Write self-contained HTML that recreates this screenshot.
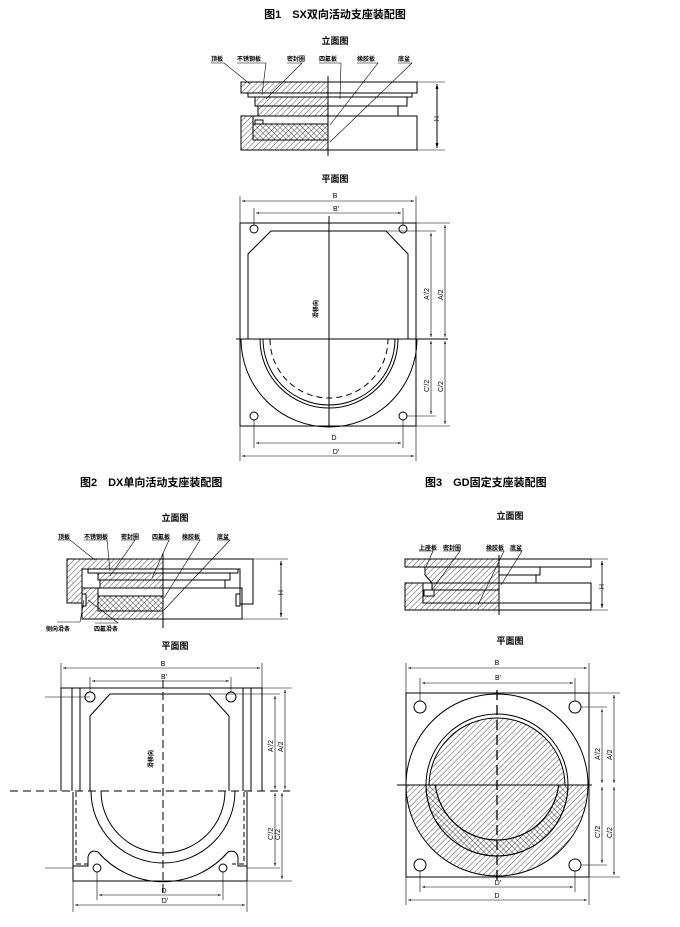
<!DOCTYPE html>
<html><head><meta charset="utf-8"><style>
html,body{margin:0;padding:0;background:#fff}
svg{display:block}
text{font-family:"Liberation Sans","Noto Sans CJK SC",sans-serif;fill:#000}
.t{font-size:11px;font-weight:bold}
.s{font-size:9px;font-weight:bold}
.l{font-size:6px;font-weight:bold}
.d{font-size:7px}
</style></head><body>
<svg width="680" height="927" viewBox="0 0 680 927" xmlns="http://www.w3.org/2000/svg">
<defs>
<pattern id="h" width="4" height="4" patternUnits="userSpaceOnUse" patternTransform="rotate(45)"><line x1="0" y1="0" x2="0" y2="4" stroke="#000" stroke-width="0.7"/></pattern>
<pattern id="x" width="4" height="4" patternUnits="userSpaceOnUse" patternTransform="rotate(45)"><line x1="0" y1="0" x2="0" y2="4" stroke="#000" stroke-width="0.7"/><line x1="0" y1="0" x2="4" y2="0" stroke="#000" stroke-width="0.7"/></pattern>
<marker id="a" viewBox="0 0 10 10" refX="10" refY="5" markerWidth="5" markerHeight="5" orient="auto-start-reverse"><path d="M0,2 L10,5 L0,8z" fill="#000"/></marker>
<clipPath id="sq3"><rect x="406" y="785" width="183" height="92"/></clipPath>
<clipPath id="up3"><rect x="406" y="693" width="183" height="92"/></clipPath>
</defs>
<g fill="none" stroke="#000" stroke-width="1">

<!-- titles -->
<text x="335" y="18" class="t" text-anchor="middle" stroke="none">图1　SX双向活动支座装配图</text>
<text x="335" y="44" class="s" text-anchor="middle" stroke="none">立面图</text>
<text x="335" y="182" class="s" text-anchor="middle" stroke="none">平面图</text>
<text x="80" y="486" class="t" stroke="none">图2　DX单向活动支座装配图</text>
<text x="425" y="486" class="t" stroke="none">图3　GD固定支座装配图</text>
<text x="175" y="521" class="s" text-anchor="middle" stroke="none">立面图</text>
<text x="175" y="649" class="s" text-anchor="middle" stroke="none">平面图</text>
<text x="510" y="519" class="s" text-anchor="middle" stroke="none">立面图</text>
<text x="510" y="644" class="s" text-anchor="middle" stroke="none">平面图</text>

<!-- FIG1 elevation -->
<rect x="241" y="82" width="176" height="11"/>
<rect x="241" y="82" width="87" height="11" fill="url(#h)"/>
<rect x="248" y="93" width="164" height="4"/>
<rect x="255" y="97" width="152" height="9"/>
<rect x="255" y="97" width="73" height="9" fill="url(#h)"/>
<rect x="258" y="106" width="140" height="10"/>
<rect x="258" y="106" width="70" height="10" fill="url(#h)"/>
<rect x="241" y="116" width="176" height="34"/>
<path d="M241,116 H253 V140 H328 V150 H241Z" fill="url(#h)"/>
<rect x="253" y="124" width="75" height="16" fill="url(#x)"/>
<rect x="255" y="120" width="8" height="4" fill="#fff"/>
<line x1="328" y1="76" x2="328" y2="156"/>
<line x1="417" y1="82" x2="445" y2="82" stroke-width="0.6"/>
<line x1="417" y1="150" x2="445" y2="150" stroke-width="0.6"/>
<line x1="437" y1="84" x2="437" y2="148" marker-start="url(#a)" marker-end="url(#a)"/>
<text x="434" y="116" class="d" stroke="none" transform="rotate(90 434 116)">H</text>
<g stroke-width="0.6">
<path d="M211,63 H224 L250,84"/><path d="M237,63 H266 L262,95"/><path d="M287,63 H302 L266,99"/>
<path d="M319,63 H341 L340,99"/><path d="M357,63 H378 L330,125"/><path d="M398,63 H412 L330,142"/>
</g>
<g class="l" stroke="none"><text x="211" y="61">顶板</text><text x="237" y="61">不锈钢板</text><text x="287" y="61">密封圈</text><text x="319" y="61">四氟板</text><text x="357" y="61">橡胶板</text><text x="398" y="61">底盆</text></g>

<!-- FIG1 plan -->
<rect x="240" y="223" width="176" height="203"/>
<path d="M248,339 V254 L271,231 H386 L408,254 V339"/>
<line x1="236" y1="339" x2="448" y2="339"/>
<line x1="329" y1="216" x2="329" y2="426"/>
<circle cx="254" cy="229" r="4"/><circle cx="403" cy="229" r="4"/><circle cx="254" cy="416" r="4"/><circle cx="403" cy="416" r="4"/>
<path d="M241,339 A88,88 0 0 0 417,339"/>
<path d="M260,339 A69,69 0 0 0 398,339"/>
<path d="M263,339 A66,66 0 0 0 395,339"/>
<path d="M270,339 A59,59 0 0 0 388,339" stroke-dasharray="6,4"/>
<text x="318" y="318" class="l" stroke="none" transform="rotate(-90 318 318)">滑移向</text>
<g stroke-width="0.6">
<line x1="240" y1="196" x2="240" y2="223"/><line x1="416" y1="196" x2="416" y2="223"/>
<line x1="254" y1="208" x2="254" y2="225"/><line x1="403" y1="208" x2="403" y2="225"/>
<line x1="242" y1="201" x2="414" y2="201" marker-start="url(#a)" marker-end="url(#a)"/>
<line x1="256" y1="213" x2="401" y2="213" marker-start="url(#a)" marker-end="url(#a)"/>
<line x1="416" y1="223" x2="450" y2="223"/><line x1="386" y1="231" x2="436" y2="231"/>
<line x1="407" y1="416" x2="436" y2="416"/><line x1="416" y1="426" x2="450" y2="426"/>
<line x1="431" y1="233" x2="431" y2="337" marker-start="url(#a)" marker-end="url(#a)"/>
<line x1="445" y1="225" x2="445" y2="337" marker-start="url(#a)" marker-end="url(#a)"/>
<line x1="431" y1="341" x2="431" y2="414" marker-start="url(#a)" marker-end="url(#a)"/>
<line x1="445" y1="341" x2="445" y2="424" marker-start="url(#a)" marker-end="url(#a)"/>
<line x1="254" y1="420" x2="254" y2="448"/><line x1="403" y1="420" x2="403" y2="448"/>
<line x1="240" y1="426" x2="240" y2="461"/><line x1="416" y1="426" x2="416" y2="461"/>
<line x1="256" y1="443" x2="401" y2="443" marker-start="url(#a)" marker-end="url(#a)"/>
<line x1="242" y1="456" x2="414" y2="456" marker-start="url(#a)" marker-end="url(#a)"/>
</g>
<g class="d" stroke="none" text-anchor="middle"><text x="335" y="198">B</text><text x="336" y="211">B'</text><text x="334" y="440">D</text><text x="336" y="454">D'</text></g>
<g class="d" stroke="none"><text x="429" y="300" transform="rotate(-90 429 300)">A'/2</text><text x="443" y="300" transform="rotate(-90 443 300)">A/2</text><text x="429" y="392" transform="rotate(-90 429 392)">C'/2</text><text x="443" y="392" transform="rotate(-90 443 392)">C/2</text></g>

<!-- FIG2 elevation -->
<path d="M67,559 H253 V604 H240 V569 H82 V603 H67Z"/>
<path d="M67,559 H163 V569 H82 V603 H67Z" fill="url(#h)"/>
<rect x="88" y="569" width="150" height="4"/>
<rect x="98" y="573" width="132" height="7"/>
<rect x="98" y="573" width="65" height="7" fill="url(#h)"/>
<rect x="100" y="580" width="125" height="8"/>
<rect x="100" y="580" width="63" height="8" fill="url(#h)"/>
<rect x="82" y="588" width="160" height="31"/>
<path d="M82,588 H98 V611 H163 V619 H82Z" fill="url(#h)"/>
<rect x="98" y="596" width="65" height="15" fill="url(#x)"/>
<rect x="82" y="594" width="4" height="12" fill="#fff"/><rect x="236" y="594" width="4" height="12" fill="#fff"/>
<line x1="163" y1="553" x2="163" y2="628"/>
<line x1="253" y1="559" x2="288" y2="559" stroke-width="0.6"/>
<line x1="242" y1="619" x2="288" y2="619" stroke-width="0.6"/>
<line x1="281" y1="561" x2="281" y2="617" marker-start="url(#a)" marker-end="url(#a)" stroke-width="0.8"/>
<text x="278" y="590" class="d" stroke="none" transform="rotate(90 278 590)">H</text>
<g stroke-width="0.6">
<path d="M58,540 H70 L95,560"/><path d="M84,540 H107 L110,571"/><path d="M121,540 H135 L110,576"/>
<path d="M152,540 H169 L152,578"/><path d="M182,540 H200 L164,598"/><path d="M217,540 H230 L164,610"/>
<path d="M57,622 H80 L84,600"/><path d="M95,623 H118 L88,600"/>
</g>
<g class="l" stroke="none"><text x="58" y="539">顶板</text><text x="84" y="539">不锈钢板</text><text x="121" y="539">密封圈</text><text x="152" y="539">四氟板</text><text x="182" y="539">橡胶板</text><text x="217" y="539">底盆</text><text x="46" y="631">侧向滑条</text><text x="94" y="631">四氟滑条</text></g>

<!-- FIG3 elevation -->
<rect x="405" y="559" width="186" height="8"/>
<rect x="405" y="559" width="94" height="8" fill="url(#h)"/>
<path d="M425,567 H499 V590 H432 V583 L425,575Z" fill="url(#h)"/>
<rect x="499" y="567" width="41" height="8"/>
<rect x="499" y="575" width="37" height="8"/>
<rect x="405" y="583" width="186" height="27"/>
<path d="M405,583 H423 V603 H499 V610 H405Z" fill="url(#h)"/>
<rect x="423" y="590" width="76" height="13" fill="url(#h)"/>
<rect x="424" y="590" width="10" height="6" fill="#fff"/>
<line x1="499" y1="603" x2="591" y2="603"/>
<line x1="499" y1="555" x2="499" y2="615"/>
<line x1="591" y1="559" x2="608" y2="559" stroke-width="0.6"/>
<line x1="591" y1="610" x2="608" y2="610" stroke-width="0.6"/>
<line x1="602" y1="561" x2="602" y2="608" marker-start="url(#a)" marker-end="url(#a)" stroke-width="0.8"/>
<text x="599" y="584" class="d" stroke="none" transform="rotate(90 599 584)">H</text>
<g stroke-width="0.6">
<path d="M419,551 H433 L426,567"/><path d="M443,551 H460 L432,590"/><path d="M486,551 H504 L478,605"/><path d="M510,551 H522 L501,585"/>
</g>
<g class="l" stroke="none"><text x="419" y="550">上座板</text><text x="443" y="550">密封圈</text><text x="486" y="550">橡胶板</text><text x="510" y="550">底盆</text></g>

<!-- FIG2 plan -->
<path d="M61,791 V688 H262 V791"/>
<path d="M72,791 V688 M80,791 V688 M251,791 V688 M243,791 V688"/>
<path d="M73,792 V881 H247 V792"/>
<path d="M76,792 V864 H88 M244,792 V864 H232" stroke-dasharray="5,3"/>
<path d="M90,791 V716 L110,694 H209 L229,716 V791"/>
<line x1="10" y1="791" x2="290" y2="791" stroke-dasharray="8,5"/>
<line x1="163" y1="680" x2="163" y2="895" stroke-dasharray="8,4"/>
<line x1="45" y1="697" x2="90" y2="697" stroke-width="0.6"/><line x1="45" y1="868" x2="73" y2="868" stroke-width="0.6"/>
<circle cx="90" cy="697" r="5"/><circle cx="231" cy="697" r="5"/><circle cx="97" cy="868" r="4"/><circle cx="223" cy="868" r="4"/>
<path d="M101,791 A62,62 0 0 0 225,791"/>
<path d="M91,791 A72,72 0 0 0 235,791"/>
<path d="M73,866 H88 V857 Q90,849 98,852 A86,86 0 0 0 228,852 Q236,849 238,857 V866 H247"/>
<text x="153" y="768" class="l" stroke="none" transform="rotate(-90 153 768)">滑移向</text>
<g stroke-width="0.6">
<line x1="61" y1="663" x2="61" y2="688"/><line x1="262" y1="663" x2="262" y2="688"/>
<line x1="90" y1="677" x2="90" y2="692"/><line x1="231" y1="677" x2="231" y2="692"/>
<line x1="63" y1="668" x2="260" y2="668" marker-start="url(#a)" marker-end="url(#a)"/>
<line x1="92" y1="681" x2="229" y2="681" marker-start="url(#a)" marker-end="url(#a)"/>
<line x1="262" y1="688" x2="292" y2="688"/><line x1="209" y1="694" x2="280" y2="694"/>
<line x1="247" y1="881" x2="292" y2="881"/><line x1="247" y1="868" x2="280" y2="868"/>
<line x1="275" y1="696" x2="275" y2="789" marker-start="url(#a)" marker-end="url(#a)"/>
<line x1="285" y1="690" x2="285" y2="789" marker-start="url(#a)" marker-end="url(#a)"/>
<line x1="275" y1="793" x2="275" y2="866" marker-start="url(#a)" marker-end="url(#a)"/>
<line x1="282" y1="793" x2="282" y2="879" marker-start="url(#a)" marker-end="url(#a)"/>
<line x1="97" y1="872" x2="97" y2="900"/><line x1="223" y1="872" x2="223" y2="900"/>
<line x1="73" y1="881" x2="73" y2="912"/><line x1="247" y1="881" x2="247" y2="912"/>
<line x1="99" y1="895" x2="221" y2="895" marker-start="url(#a)" marker-end="url(#a)"/>
<line x1="75" y1="905" x2="245" y2="905" marker-start="url(#a)" marker-end="url(#a)"/>
</g>
<g class="d" stroke="none" text-anchor="middle"><text x="163" y="666">B</text><text x="164" y="679">B'</text><text x="164" y="893">D</text><text x="165" y="903">D'</text></g>
<g class="d" stroke="none"><text x="273" y="752" transform="rotate(-90 273 752)">A'/2</text><text x="283" y="752" transform="rotate(-90 283 752)">A/2</text><text x="273" y="840" transform="rotate(-90 273 840)">C'/2</text><text x="280" y="840" transform="rotate(-90 280 840)">C/2</text></g>

<!-- FIG3 plan -->
<rect x="406" y="693" width="183" height="184"/>
<circle cx="497" cy="785" r="91" clip-path="url(#up3)"/>
<circle cx="497" cy="785" r="91" fill="url(#h)" clip-path="url(#sq3)"/>
<circle cx="497" cy="785" r="71" fill="#fff" clip-path="url(#sq3)"/>
<circle cx="497" cy="785" r="71" fill="url(#x)" clip-path="url(#sq3)"/>
<circle cx="497" cy="778" r="62" fill="#fff" clip-path="url(#sq3)"/>
<circle cx="497" cy="778" r="62" fill="url(#h)" clip-path="url(#sq3)"/>
<circle cx="497" cy="785" r="71" clip-path="url(#up3)"/>
<circle cx="497" cy="786" r="68" fill="url(#h)" clip-path="url(#up3)"/>
<line x1="397" y1="785" x2="592" y2="785"/>
<line x1="497" y1="690" x2="497" y2="880" stroke-dasharray="10,5" stroke-width="1.3"/>
<circle cx="420" cy="707" r="6"/><circle cx="575" cy="707" r="6"/><circle cx="420" cy="865" r="6"/><circle cx="575" cy="865" r="6"/>
<g stroke-width="0.6">
<line x1="406" y1="663" x2="406" y2="693"/><line x1="589" y1="663" x2="589" y2="693"/>
<line x1="420" y1="678" x2="420" y2="701"/><line x1="575" y1="678" x2="575" y2="701"/>
<line x1="408" y1="668" x2="587" y2="668" marker-start="url(#a)" marker-end="url(#a)"/>
<line x1="422" y1="683" x2="573" y2="683" marker-start="url(#a)" marker-end="url(#a)"/>
<line x1="589" y1="693" x2="620" y2="693"/><line x1="581" y1="707" x2="607" y2="707"/>
<line x1="581" y1="865" x2="607" y2="865"/><line x1="589" y1="877" x2="620" y2="877"/>
<line x1="602" y1="709" x2="602" y2="783" marker-start="url(#a)" marker-end="url(#a)"/>
<line x1="614" y1="695" x2="614" y2="783" marker-start="url(#a)" marker-end="url(#a)"/>
<line x1="602" y1="787" x2="602" y2="863" marker-start="url(#a)" marker-end="url(#a)"/>
<line x1="614" y1="787" x2="614" y2="875" marker-start="url(#a)" marker-end="url(#a)"/>
<line x1="420" y1="871" x2="420" y2="892"/><line x1="575" y1="871" x2="575" y2="892"/>
<line x1="406" y1="877" x2="406" y2="905"/><line x1="589" y1="877" x2="589" y2="905"/>
<line x1="422" y1="887" x2="573" y2="887" marker-start="url(#a)" marker-end="url(#a)"/>
<line x1="408" y1="900" x2="587" y2="900" marker-start="url(#a)" marker-end="url(#a)"/>
</g>
<g class="d" stroke="none" text-anchor="middle"><text x="497" y="665">B</text><text x="498" y="680">B'</text><text x="498" y="885">D'</text><text x="497" y="898">D</text></g>
<g class="d" stroke="none"><text x="600" y="760" transform="rotate(-90 600 760)">A'/2</text><text x="612" y="760" transform="rotate(-90 612 760)">A/2</text><text x="600" y="838" transform="rotate(-90 600 838)">C'/2</text><text x="612" y="838" transform="rotate(-90 612 838)">C/2</text></g>
</g>
</svg>
</body></html>
